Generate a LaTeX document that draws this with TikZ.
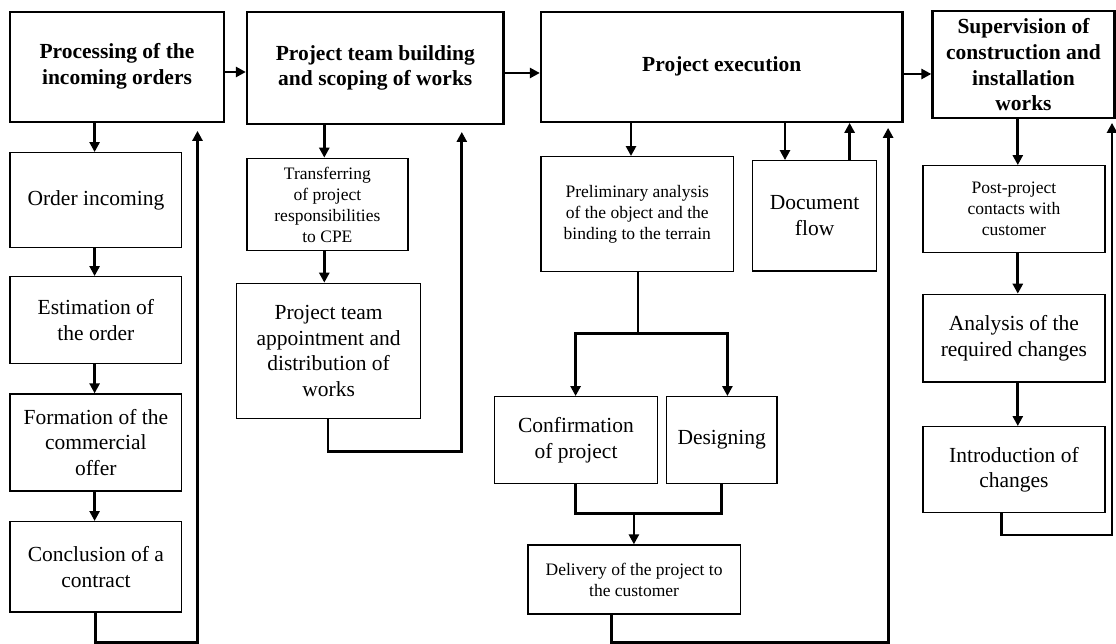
\documentclass[tikz,border=0pt]{standalone}
\usepackage{fontspec}
\setmainfont{Liberation Serif}
\usetikzlibrary{arrows.meta}
\begin{document}
\begin{tikzpicture}[x=1pt,y=-1pt,
  box/.style={draw, line width=1.3pt, inner sep=0pt, align=center, anchor=center,
    font=\fontsize{21.5}{25.8}\selectfont},
  sbox/.style={box, font=\fontsize{17.5}{21}\selectfont},
  mainbox/.style={box, line width=2.3pt, font=\bfseries\fontsize{21.5}{25.8}\selectfont},
  conn/.style={line width=2.8pt},
  arr/.style={conn, -{Triangle[length=10pt,width=10pt]}}]
\useasboundingbox (0,0) rectangle (1116,644);

% main boxes
\node[mainbox, minimum width=214pt, minimum height=110pt] (P1) at (117,66.7) {Processing of the\\incoming orders};
\node[mainbox, minimum width=256.6pt, minimum height=112.6pt] (P2) at (375.3,68) {Project team building\\and scoping of works};
\node[mainbox, minimum width=361.4pt, minimum height=110pt] (P3) at (721.7,66.7) {Project execution};
\node[mainbox, minimum width=182pt, minimum height=107.3pt] (P4) at (1023.5,64.7) {Supervision of\\construction and\\installation\\works};

% column 1
\node[box, minimum width=171.8pt, minimum height=94.6pt] (OI) at (95.9,200) {Order incoming};
\node[box, minimum width=171.8pt, minimum height=87pt] (EO) at (95.9,320.2) {Estimation of\\the order};
\node[box, minimum width=171.8pt, minimum height=97pt] (FC) at (95.9,442.5) {Formation of the\\commercial\\offer};
\node[box, minimum width=171.8pt, minimum height=90.3pt] (CC) at (95.9,566.8) {Conclusion of a\\contract};

% column 2
\node[sbox, minimum width=161pt, minimum height=92.4pt] (TR) at (327.4,204.5) {Transferring\\of project\\responsibilities\\to CPE};
\node[box, minimum width=184.3pt, minimum height=135.4pt] (PT) at (328.6,351) {Project team\\appointment and\\distribution of\\works};

% column 3
\node[sbox, minimum width=192.5pt, minimum height=115pt] (PA) at (637.3,214.2) {Preliminary analysis\\of the object and the\\binding to the terrain};
\node[box, minimum width=123.6pt, minimum height=110.3pt] (DF) at (814.6,215.9) {Document\\flow};
\node[box, minimum width=162.8pt, minimum height=86.6pt] (CF) at (576,440) {Confirmation\\of project};
\node[box, minimum width=110.6pt, minimum height=86.6pt] (DS) at (721.7,440) {Designing};
\node[sbox, minimum width=212.4pt, minimum height=69pt] (DL) at (634.1,579.5) {Delivery of the project to\\the customer};

% column 4
\node[sbox, minimum width=182.1pt, minimum height=87pt] (PP) at (1013.9,209.2) {Post-project\\contacts with\\customer};
\node[box, minimum width=182.1pt, minimum height=87.7pt] (AN) at (1013.9,338.2) {Analysis of the\\required changes};
\node[box, minimum width=182.1pt, minimum height=86pt] (IC) at (1013.9,469.7) {Introduction of\\changes};

% helper coordinates
\coordinate (h1) at (0,72);
\coordinate (h2) at (0,73);
\coordinate (h3) at (0,74);
\coordinate (c1) at (94.6,0);
\coordinate (c2) at (324.3,0);
\coordinate (c3) at (631,0);
\coordinate (d1) at (785,0);
\coordinate (d2) at (849.6,0);
\coordinate (c4) at (1017.8,0);
\coordinate (a1) at (95.7,0);
\coordinate (b1) at (197.5,642.5);
\coordinate (a2) at (327.9,0);
\coordinate (b2) at (461.8,451.7);
\coordinate (a3) at (611.4,0);
\coordinate (b3) at (888.1,642.5);
\coordinate (a4) at (1001.7,0);
\coordinate (b4) at (1112,535);
\coordinate (a5) at (638,0);
\coordinate (bl) at (575.6,333.3);
\coordinate (bR) at (727.4,333.3);
\coordinate (m1) at (575.6,513.3);
\coordinate (m2) at (721.4,513.3);
\coordinate (c5) at (633.9,0);

% horizontal arrows
\draw[arr] (P1.east |- h1) -- (P2.west |- h1);
\draw[arr] (P2.east |- h2) -- (P3.west |- h2);
\draw[arr] (P3.east |- h3) -- (P4.west |- h3);

% column 1
\draw[arr] (P1.south -| c1) -- (OI.north -| c1);
\draw[arr] (OI.south -| c1) -- (EO.north -| c1);
\draw[arr] (EO.south -| c1) -- (FC.north -| c1);
\draw[arr] (FC.south -| c1) -- (CC.north -| c1);
\draw[arr, shorten >=8pt] (CC.south -| a1) |- (b1) -- (b1 |- P1.south);

% column 2
\draw[arr] (P2.south -| c2) -- (TR.north -| c2);
\draw[arr] (TR.south -| c2) -- (PT.north -| c2);
\draw[arr, shorten >=6.5pt] (PT.south -| a2) |- (b2) -- (b2 |- P2.south);

% column 3
\draw[arr] (P3.south -| c3) -- (PA.north -| c3);
\draw[arr] (P3.south -| d1) -- (DF.north -| d1);
\draw[arr] (DF.north -| d2) -- (P3.south -| d2);
\draw[arr] (PA.south -| a5) |- (bl) -- (CF.north -| bl);
\draw[arr] (a5 |- bl) -| (DS.north -| bR);
\draw[conn] (CF.south -| m1) -- (m1) -- (m2) -- (DS.south -| m2);
\draw[arr] (m1 -| c5) -- (DL.north -| c5);
\draw[arr, shorten >=5pt] (DL.south -| a3) |- (b3) -- (b3 |- P3.south);

% column 4
\draw[arr] (P4.south -| c4) -- (PP.north -| c4);
\draw[arr] (PP.south -| c4) -- (AN.north -| c4);
\draw[arr] (AN.south -| c4) -- (IC.north -| c4);
\draw[arr, shorten >=3.4pt] (IC.south -| a4) |- (b4) -- (b4 |- P4.south);
\end{tikzpicture}
\end{document}
